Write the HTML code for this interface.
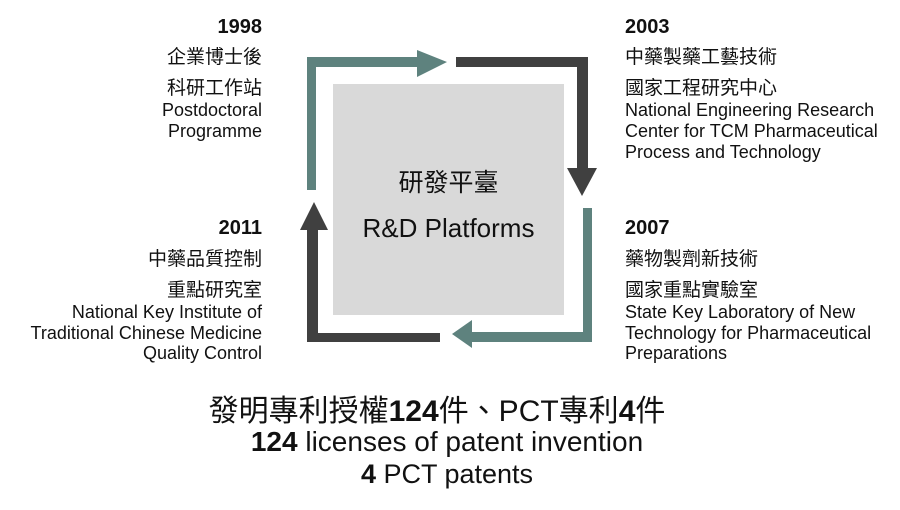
<!DOCTYPE html>
<html><head><meta charset="utf-8"><style>
body{margin:0;width:900px;height:510px;background:#fff;position:relative;overflow:hidden;font-family:"Liberation Sans","Noto Sans CJK TC",sans-serif;color:#111}
.l{position:absolute;font-size:18px;line-height:22px;white-space:nowrap}
.k{font-size:19px}
.r{text-align:right;right:638px}
.lf{left:625px}
.y{font-weight:bold;font-size:20px}
.c{position:absolute;left:0;width:900px;text-align:center;white-space:nowrap;font-size:28px;line-height:32px}
</style></head><body>
<svg width="900" height="510" style="position:absolute;left:0;top:0">
<rect x="333" y="84" width="231" height="231" fill="#d9d9d9"/>
<g fill="#5e827e">
<rect x="307" y="57" width="9" height="133"/>
<rect x="307" y="57" width="112" height="10"/>
<polygon points="417,50 447,62 417,77"/>
<rect x="583" y="208" width="9" height="134"/>
<rect x="470" y="332" width="122" height="10"/>
<polygon points="472,320 452,334 472,348"/>
</g>
<g fill="#404040">
<rect x="456" y="57" width="132" height="10"/>
<rect x="577" y="57" width="11" height="113"/>
<polygon points="567,168 597,168 582,196"/>
<rect x="307" y="333" width="133" height="9"/>
<rect x="307" y="228" width="11" height="114"/>
<polygon points="300,230 328,230 314,202"/>
</g>
</svg>
<div class="l" style="left:333px;width:231px;text-align:center;top:168px;font-size:25px;line-height:30px">研發平臺</div>
<div class="l" style="left:333px;width:231px;text-align:center;top:213px;font-size:26px;line-height:30px">R&amp;D Platforms</div>

<div class="l r y" style="top:16px">1998</div>
<div class="l r k" style="top:47px">企業博士後</div>
<div class="l r k" style="top:78px">科研工作站</div>
<div class="l r" style="top:99px">Postdoctoral</div>
<div class="l r" style="top:120px">Programme</div>

<div class="l lf y" style="top:16px">2003</div>
<div class="l lf k" style="top:47px">中藥製藥工藝技術</div>
<div class="l lf k" style="top:78px">國家工程研究中心</div>
<div class="l lf" style="top:99px">National Engineering Research</div>
<div class="l lf" style="top:120px">Center for TCM Pharmaceutical</div>
<div class="l lf" style="top:141px">Process and Technology</div>

<div class="l r y" style="top:217px">2011</div>
<div class="l r k" style="top:249px">中藥品質控制</div>
<div class="l r k" style="top:280px">重點研究室</div>
<div class="l r" style="top:301px">National Key Institute of</div>
<div class="l r" style="top:322px">Traditional Chinese Medicine</div>
<div class="l r" style="top:342px">Quality Control</div>

<div class="l lf y" style="top:217px">2007</div>
<div class="l lf k" style="top:249px">藥物製劑新技術</div>
<div class="l lf k" style="top:280px">國家重點實驗室</div>
<div class="l lf" style="top:301px">State Key Laboratory of New</div>
<div class="l lf" style="top:322px">Technology for Pharmaceutical</div>
<div class="l lf" style="top:342px">Preparations</div>

<div class="c" style="top:396px;left:-13px;font-size:30px">發明專利授權<b>124</b>件、PCT專利<b>4</b>件</div>
<div class="c" style="top:426px;left:-3px"><b>124</b> licenses of patent invention</div>
<div class="c" style="top:458px;left:-3px;font-size:27px"><b>4</b> PCT patents</div>
</body></html>
